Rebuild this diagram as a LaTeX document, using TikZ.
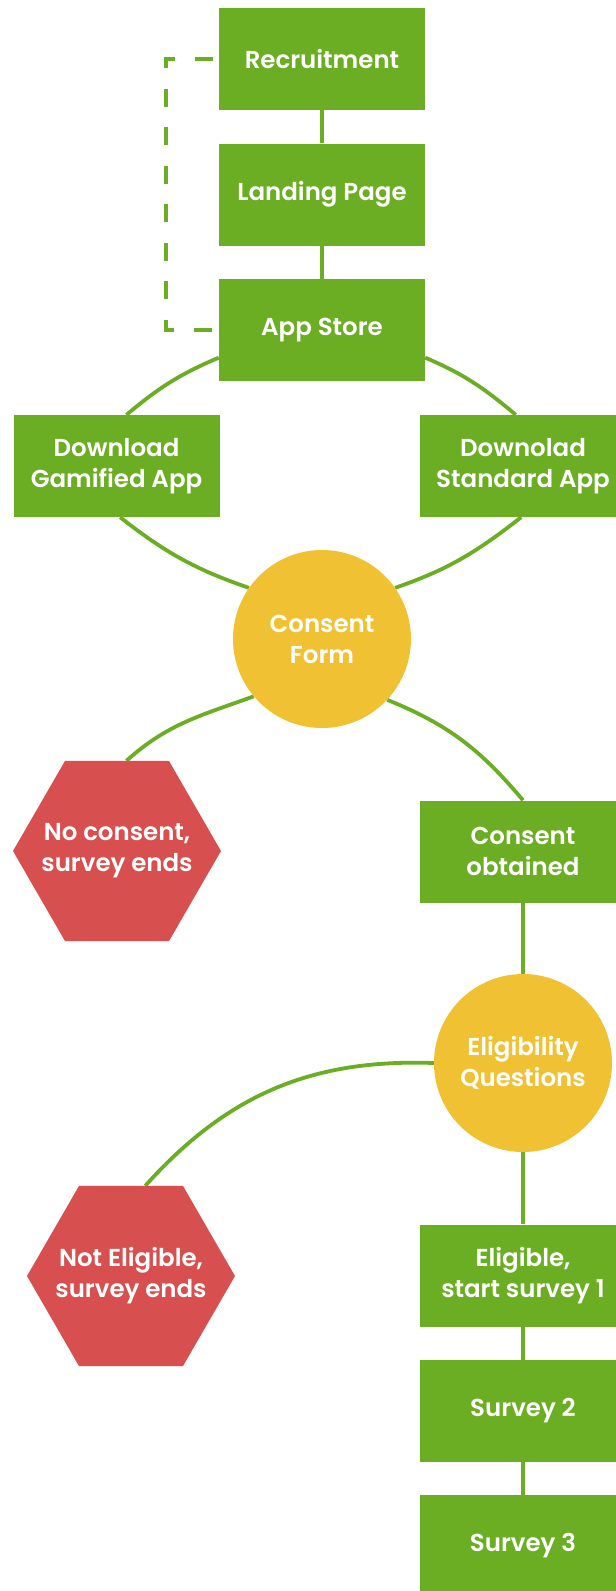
\documentclass[tikz,border=0pt]{standalone}
\usepackage{fontspec}
\newfontfamily\lab{Poppins SemiBold}
\usetikzlibrary{shapes.geometric,backgrounds}
\definecolor{grn}{RGB}{107,174,35}
\definecolor{ylw}{RGB}{240,194,51}
\definecolor{rd}{RGB}{216,79,80}
\tikzset{
  base/.style={inner sep=0pt, text=white, align=center, font=\lab\fontsize{24.5}{31}\selectfont},
  box/.style={base, rectangle, fill=grn, minimum width=206pt, minimum height=102pt},
  disc/.style={base, circle, fill=ylw, minimum size=178pt},
  hexa/.style={base, regular polygon, regular polygon sides=6, fill=rd, inner sep=-60pt, minimum size=208pt},
  link/.style={draw=grn, line width=3.8pt},
  dashlink/.style={draw=grn, line width=4pt, dash pattern=on 18pt off 20.57pt, dash phase=33.14pt}
}
\begin{document}
\begin{tikzpicture}[x=1pt,y=1pt]
\useasboundingbox (0,0) rectangle (616,-1591);
\node[box] (rec) at (322,-59) {Recruitment};
\node[box] (land) at (322,-194.5) {Landing Page};
\node[box] (app) at (322,-330) {App Store};
\node[box] (gam) at (116.5,-466) {Download\\Gamified App};
\node[box] (std) at (523,-466) {Downolad\\Standard App};
\node[disc] (cf) at (322,-639) {Consent\\Form};
\node[hexa] (nc) at (117,-851) {No consent,\\survey ends};
\node[box] (co) at (523,-851.5) {Consent\\obtained};
\node[disc] (el) at (523,-1063) {Eligibility\\Questions};
\node[hexa] (ne) at (131,-1276) {Not Eligible,\\survey ends};
\node[box] (e1) at (523,-1275.5) {Eligible,\\start survey 1};
\node[box] (s2) at (523,-1411) {Survey 2};
\node[box] (s3) at (523,-1546) {Survey 3};
\begin{scope}[on background layer]
\fill[white] (0,0) rectangle (616,-1591);
\draw[link] (rec) -- (land);
\draw[link] (land) -- (app);
\draw[dashlink] (rec.west) -- ++(-53,0) |- (app.west);
\draw[link] (app.195) to[out=203,in=40] (gam.79);
\draw[link] (app.-15) to[out=-23,in=140] (std.98);
\draw[link] (gam.-86) to[out=-38,in=161] (cf.145);
\draw[link] (std.268) to[out=218,in=19] (cf.35);
\draw[link] (cf.220) to[out=200,in=42] (nc.84);
\draw[link] (cf.-43) to[out=-22,in=130] (co.north);
\draw[link] (co) -- (el);
\draw[link] (el.180) to[out=178,in=48] (ne.81);
\draw[link] (el) -- (e1);
\draw[link] (e1) -- (s2);
\draw[link] (s2) -- (s3);
\end{scope}
\end{tikzpicture}
\end{document}
